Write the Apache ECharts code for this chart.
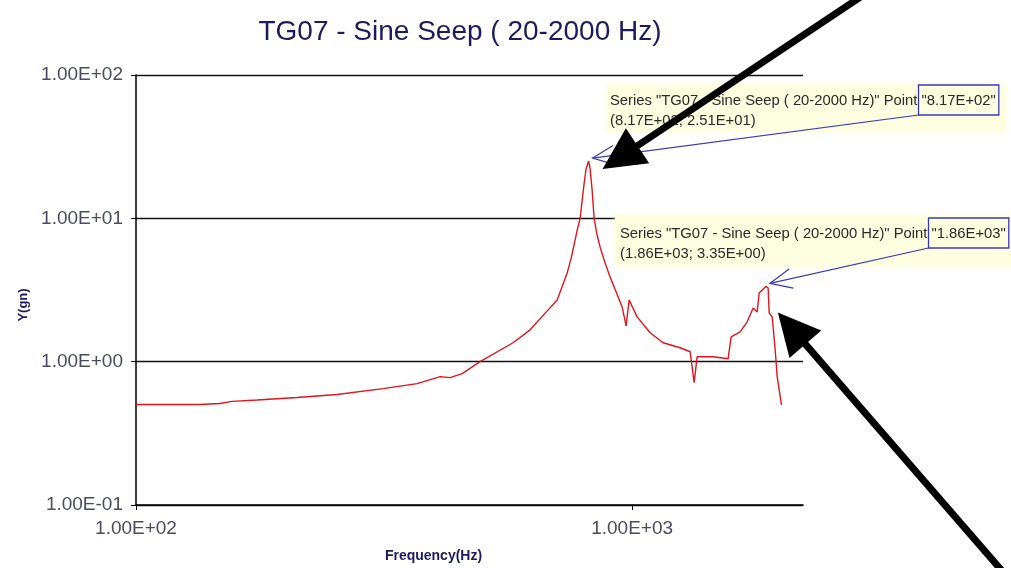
<!DOCTYPE html>
<html>
<head>
<meta charset="utf-8">
<script src="https://cdn.jsdelivr.net/npm/echarts@6/dist/echarts.min.js"></script>
<style>
  html, body { margin: 0; padding: 0; background: #ffffff; }
  #chart { width: 1011px; height: 568px; }
</style>
</head>
<body>
<div id="chart"></div>
<script>
// Sine sweep response, TG07
const seriesName = 'TG07 - Sine Seep ( 20-2000 Hz)';

const freqHz = [
  100, 111.8, 134.6, 147.7, 156.1, 175.4, 211.2, 254.2, 314.8, 368.6,
  410.2, 429.6, 454.4, 493.7, 575.4, 622.8, 677.2, 706.2, 739.6, 753.6,
  767.4, 774.6, 785.6, 800.2, 807.7, 817, 823, 830.7, 838.3, 850,
  862.0, 882.2, 902.8, 928.5, 954.6, 972.5, 986.2, 1023.5, 1087.2, 1154.8,
  1249.6, 1309, 1333.5, 1352.1, 1456.6, 1561.3, 1583.3, 1650.7, 1705.5, 1753.8,
  1786.6, 1803.2, 1860, 1880, 1888.7, 1915.5, 1942.3, 1960.3, 2000
];

const accelGn = [
  0.503, 0.503, 0.503, 0.511, 0.528, 0.540, 0.562, 0.590, 0.649, 0.703,
  0.787, 0.774, 0.825, 1.0, 1.355, 1.668, 2.297, 2.696, 4.15, 5.28,
  7.04, 8.25, 10.0, 17.5, 22.2, 25.1, 22.2, 15.6, 10.0, 7.62,
  6.29, 4.87, 3.89, 3.06, 2.41, 1.778, 2.696, 2.053, 1.590, 1.355,
  1.251, 1.173, 0.715, 1.083, 1.083, 1.049, 1.491, 1.616, 1.896, 2.371,
  2.225, 3.013, 3.35, 3.265, 2.189, 2.053, 1.212, 0.787, 0.50
];

// Points carrying a data-label callout
const labelledFreqs = [817, 1860];

// Axis extents and tick values
const xRange = [100, 2210];
const yRange = [0.1, 100];
const xTickValues = [100, 1000];
const yTickValues = [0.1, 1, 10, 100];

function sci(v) {
  let e = Math.floor(Math.log10(v) + 1e-9);
  let m = v / Math.pow(10, e);
  if (m.toFixed(2) === '10.00') { m /= 10; e += 1; }
  return m.toFixed(2) + 'E' + (e < 0 ? '-' : '+') + String(Math.abs(e)).padStart(2, '0');
}

const chart = echarts.init(document.getElementById('chart'), null, { renderer: 'canvas' });

const navy = '#1c1c5c';
const tickColor = '#4a4a60';

chart.setOption({
  backgroundColor: '#ffffff',
  animation: false,
  title: {
    text: seriesName,
    left: 455,
    textAlign: 'center',
    top: 13,
    textStyle: { fontFamily: 'Liberation Sans', fontSize: 28, fontWeight: 'normal', color: navy }
  },
  grid: { left: 136, top: 75, right: 208, bottom: 62, containLabel: false },
  xAxis: {
    type: 'log',
    logBase: 10,
    min: xRange[0],
    max: xRange[1],
    name: 'Frequency(Hz)',
    nameLocation: 'middle',
    nameGap: 44,
    nameTextStyle: { fontFamily: 'Liberation Sans', fontSize: 14, fontWeight: 'bold', color: navy, padding: [0, 72, 0, 0] },
    axisLine: { lineStyle: { color: '#000', width: 1.5 } },
    axisTick: { show: true, length: 5, inside: false, lineStyle: { color: '#000' }, customValues: xTickValues },
    axisLabel: {
      customValues: xTickValues,
      formatter: v => sci(v),
      margin: 14,
      fontFamily: 'Liberation Sans', fontSize: 19, color: tickColor
    },
    splitLine: { show: false },
    minorTick: { show: false }
  },
  yAxis: {
    type: 'log',
    logBase: 10,
    min: yRange[0],
    max: yRange[1],
    name: 'Y(gn)',
    nameLocation: 'middle',
    nameGap: 106,
    nameRotate: 90,
    nameTextStyle: { fontFamily: 'Liberation Sans', fontSize: 13, fontWeight: 'bold', color: navy, padding: [0, 30, 0, 0] },
    axisLine: { show: true, lineStyle: { color: '#000', width: 1.5 } },
    axisTick: { show: true, length: 5, lineStyle: { color: '#000' }, customValues: yTickValues },
    axisLabel: {
      customValues: yTickValues,
      formatter: v => sci(v),
      margin: 13,
      fontFamily: 'Liberation Sans', fontSize: 19, color: tickColor
    },
    splitLine: { show: true, lineStyle: { color: '#111', width: 1.3 } }
  },
  series: [{
    name: seriesName,
    type: 'line',
    data: freqHz.map((f, i) => [f, accelGn[i]]),
    showSymbol: false,
    symbol: 'none',
    lineStyle: { color: '#e0141c', width: 1.4 },
    clip: true
  }]
});

// Callouts and pointer arrows, anchored to the labelled points
const calloutLayout = [
  { textX: 610, textY: 91, box: [607, 85, 398, 46] },
  { textX: 620, textY: 224, box: [615, 216, 400, 50] }
];
const fontCallout = '14.8px "Liberation Sans"';
const measure = (() => {
  const c = document.createElement('canvas').getContext('2d');
  c.font = fontCallout;
  return t => c.measureText(t).width;
})();

const graphics = [];
labelledFreqs.forEach((f, k) => {
  const i = freqHz.indexOf(f);
  const x = freqHz[i], y = accelGn[i];
  const p = chart.convertToPixel({ gridIndex: 0 }, [x, y]);
  const L = calloutLayout[k];
  const head = 'Series "' + seriesName + '" Point ';
  const quoted = '"' + sci(x) + '"';
  const line2 = '(' + sci(x) + '; ' + sci(y) + ')';
  const headW = measure(head);
  const qW = measure(quoted);

  graphics.push({
    type: 'rect', silent: true, z: 10,
    shape: { x: L.box[0], y: L.box[1], width: L.box[2], height: L.box[3] },
    style: { fill: '#fdfde0', shadowBlur: 6, shadowColor: 'rgba(250,250,205,0.9)' }
  });
  graphics.push({
    type: 'text', silent: true, z: 11,
    x: L.textX, y: L.textY,
    style: {
      text: head + quoted + '\n' + line2,
      font: fontCallout, fill: '#2a2a2a', lineHeight: 20
    }
  });
  const bx = L.textX + headW - 3, by = L.textY - 6, bw = qW + 6, bh = 30;
  graphics.push({
    type: 'rect', silent: true, z: 12,
    shape: { x: bx, y: by, width: bw, height: bh },
    style: { fill: 'none', stroke: '#3a3ab4', lineWidth: 1.3 }
  });
  // leader line with an open arrowhead at the point
  const tip = [p[0] + 4, p[1] - 3];
  const from = [bx, by + bh];
  const ang = Math.atan2(from[1] - tip[1], from[0] - tip[0]);
  const wing = 24, spread = 0.42;
  graphics.push({
    type: 'polyline', silent: true, z: 12,
    shape: { points: [from, tip] },
    style: { stroke: '#3a3ab4', lineWidth: 1.2, fill: 'none' }
  });
  graphics.push({
    type: 'polyline', silent: true, z: 12,
    shape: { points: [
      [tip[0] + wing * Math.cos(ang + spread), tip[1] + wing * Math.sin(ang + spread)],
      tip,
      [tip[0] + wing * Math.cos(ang - spread), tip[1] + wing * Math.sin(ang - spread)]
    ] },
    style: { stroke: '#3a3ab4', lineWidth: 1.2, fill: 'none' }
  });
});

// Heavy black pointer arrows
const pointerDefs = [
  { idx: 0, offset: [14, 8], start: [862, -4] },
  { idx: 1, offset: [12, 26], start: [1003, 572] }
];
pointerDefs.forEach(d => {
  const f = labelledFreqs[d.idx];
  const i = freqHz.indexOf(f);
  const p = chart.convertToPixel({ gridIndex: 0 }, [freqHz[i], accelGn[i]]);
  const tip = [p[0] + d.offset[0], p[1] + d.offset[1]];
  const dx = d.start[0] - tip[0], dy = d.start[1] - tip[1];
  const len = Math.hypot(dx, dy);
  const ux = dx / len, uy = dy / len;
  const hl = 42, hw = 21;
  const base = [tip[0] + ux * hl, tip[1] + uy * hl];
  graphics.push({
    type: 'polyline', silent: true, z: 20,
    shape: { points: [d.start, [tip[0] + ux * (hl - 4), tip[1] + uy * (hl - 4)]] },
    style: { stroke: '#000', lineWidth: 7, fill: 'none' }
  });
  graphics.push({
    type: 'polygon', silent: true, z: 20,
    shape: { points: [
      tip,
      [base[0] - uy * hw, base[1] + ux * hw],
      [base[0] + uy * hw, base[1] - ux * hw]
    ] },
    style: { fill: '#000' }
  });
});

chart.setOption({ graphic: graphics });
</script>
</body>
</html>
